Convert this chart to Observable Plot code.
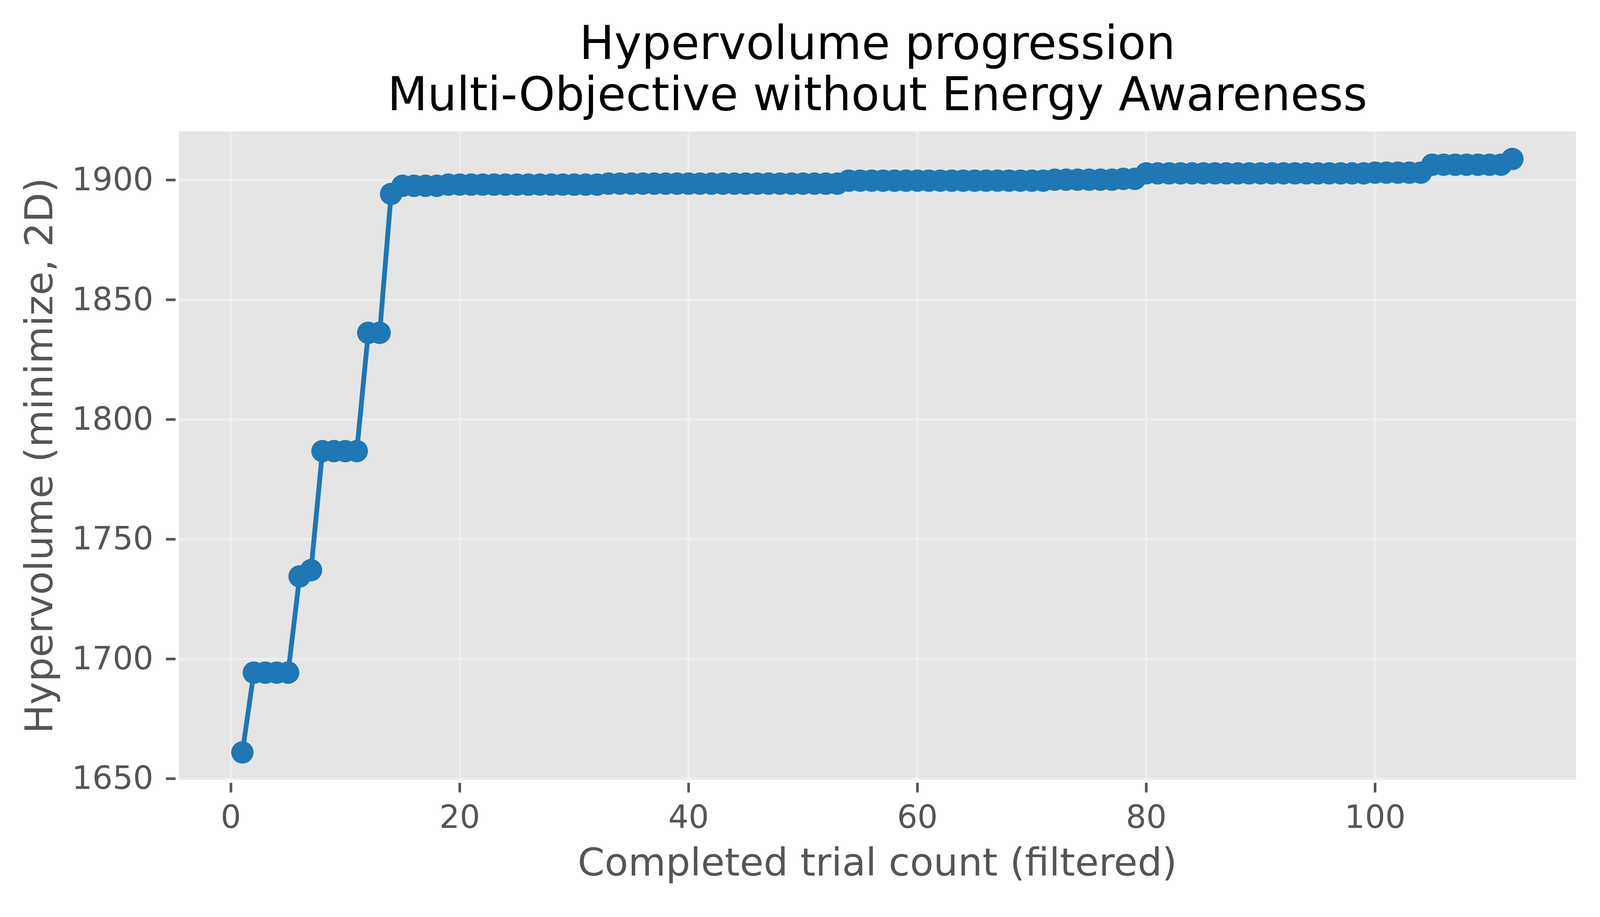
<!DOCTYPE html>
<html>
<head>
<meta charset="utf-8">
<script src="https://cdn.jsdelivr.net/npm/d3@7"></script>
<script src="https://cdn.jsdelivr.net/npm/@observablehq/plot@0.6"></script>
<style>
  html, body { margin: 0; padding: 0; background: #ffffff; overflow: hidden; }
  #chart svg { display: block; }
</style>
</head>
<body>
<div id="chart"></div>
<script>
// ---- data ----
const titleLines = ["Hypervolume progression", "Multi-Objective without Energy Awareness"];
const xLabel = "Completed trial count (filtered)";
const yLabel = "Hypervolume (minimize, 2D)";
const xTicks = [0, 20, 40, 60, 80, 100];
const yTicks = [1650, 1700, 1750, 1800, 1850, 1900];

const trials = [
  1, 2, 3, 4, 5, 6, 7, 8, 9, 10,
  11, 12, 13, 14, 15, 16, 17, 18, 19, 20,
  21, 22, 23, 24, 25, 26, 27, 28, 29, 30,
  31, 32, 33, 34, 35, 36, 37, 38, 39, 40,
  41, 42, 43, 44, 45, 46, 47, 48, 49, 50,
  51, 52, 53, 54, 55, 56, 57, 58, 59, 60,
  61, 62, 63, 64, 65, 66, 67, 68, 69, 70,
  71, 72, 73, 74, 75, 76, 77, 78, 79, 80,
  81, 82, 83, 84, 85, 86, 87, 88, 89, 90,
  91, 92, 93, 94, 95, 96, 97, 98, 99, 100,
  101, 102, 103, 104, 105, 106, 107, 108, 109, 110,
  111, 112
];

const hypervolume = [
  1661.0, 1694.3, 1694.3, 1694.3, 1694.3, 1734.5, 1737.1, 1786.8, 1786.8, 1786.8,
  1786.8, 1836.2, 1836.2, 1894.2, 1897.6, 1897.6, 1897.6, 1897.6, 1898.1, 1898.1,
  1898.1, 1898.1, 1898.1, 1898.1, 1898.1, 1898.1, 1898.1, 1898.1, 1898.1, 1898.1,
  1898.1, 1898.1, 1898.5, 1898.5, 1898.5, 1898.5, 1898.5, 1898.5, 1898.5, 1898.5,
  1898.5, 1898.5, 1898.5, 1898.5, 1898.5, 1898.5, 1898.5, 1898.5, 1898.5, 1898.5,
  1898.5, 1898.5, 1898.5, 1899.75, 1899.75, 1899.75, 1899.75, 1899.75, 1899.75, 1899.75,
  1899.75, 1899.75, 1899.75, 1899.75, 1899.75, 1899.75, 1899.75, 1899.75, 1899.75, 1899.75,
  1899.75, 1900.15, 1900.15, 1900.15, 1900.15, 1900.15, 1900.15, 1900.5, 1900.5, 1902.8,
  1902.8, 1902.8, 1902.8, 1902.8, 1902.8, 1902.8, 1902.8, 1902.8, 1902.8, 1902.8,
  1902.8, 1902.8, 1902.8, 1902.8, 1902.8, 1902.8, 1902.8, 1902.8, 1902.8, 1903.1,
  1903.1, 1903.1, 1903.1, 1903.1, 1906.4, 1906.4, 1906.4, 1906.4, 1906.4, 1906.4,
  1906.4, 1908.8
];

const rows = trials.map((t, i) => ({trial: t, hv: hypervolume[i]}));

const blue = "#1f77b4";
const grey = "#555555";
const plain = (d) => String(d);

const chart = Plot.plot({
  width: 4146,
  height: 2347,
  marginLeft: 463,
  marginRight: 63,
  marginTop: 340,
  marginBottom: 327,
  style: {fontFamily: "'DejaVu Sans', sans-serif", background: "#ffffff", overflow: "visible"},
  x: {domain: [-4.55, 117.55]},
  y: {domain: [1649.5, 1920.3]},
  marks: [
    Plot.frame({fill: "#E5E5E5", stroke: null}),
    Plot.gridX(xTicks, {stroke: "#ffffff", strokeOpacity: 0.3, strokeWidth: 6.7}),
    Plot.gridY(yTicks, {stroke: "#ffffff", strokeOpacity: 0.3, strokeWidth: 6.7}),
    Plot.axisX(xTicks, {
      tickSize: 25, tickPadding: 32, dy: 8, fontSize: 83, fill: grey,
      stroke: grey, strokeWidth: 6.7, label: null, tickFormat: plain
    }),
    Plot.axisY(yTicks, {
      tickSize: 25, tickPadding: 33, dx: -8, fontSize: 83, fill: grey,
      stroke: grey, strokeWidth: 6.7, label: null, tickFormat: plain
    }),
    Plot.line(rows, {x: "trial", y: "hv", stroke: blue, strokeWidth: 12.5}),
    Plot.dot(rows, {x: "trial", y: "hv", r: 29, fill: blue, stroke: null}),
    Plot.text([titleLines[0]], {frameAnchor: "top", textAnchor: "middle", lineAnchor: "bottom", dy: -188, fontSize: 120, fill: "#000000"}),
    Plot.text([titleLines[1]], {frameAnchor: "top", textAnchor: "middle", lineAnchor: "bottom", dy: -55, fontSize: 120, fill: "#000000"}),
    Plot.text([xLabel], {frameAnchor: "bottom", textAnchor: "middle", lineAnchor: "bottom", dy: 248, fontSize: 100, fill: grey}),
    Plot.text([yLabel], {frameAnchor: "left", textAnchor: "middle", lineAnchor: "bottom", rotate: -90, dx: -328, fontSize: 100, fill: grey})
  ]
});

document.getElementById("chart").appendChild(chart);
</script>
</body>
</html>
